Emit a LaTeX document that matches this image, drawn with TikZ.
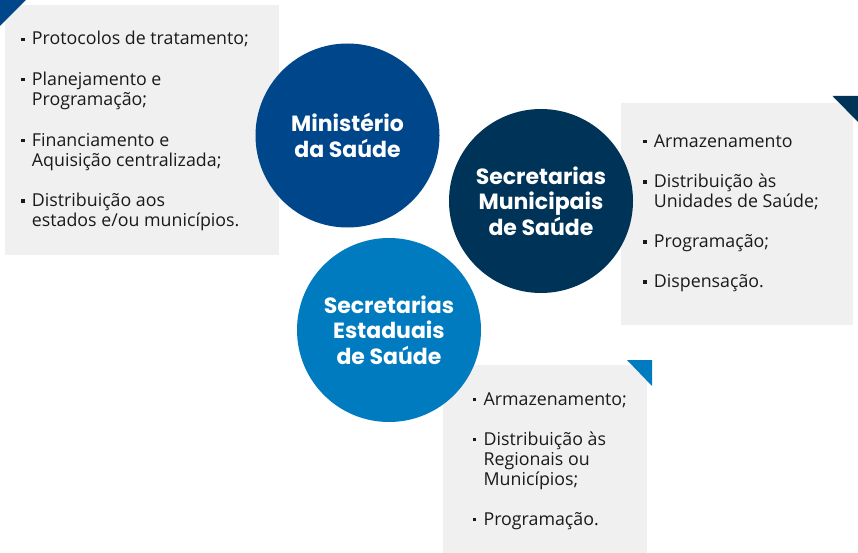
\documentclass[tikz,border=0pt]{standalone}
\usepackage{fontspec}
\setmainfont{Open Sans}
\newfontfamily\circfont{Poppins}
\definecolor{cA}{HTML}{00468B}
\definecolor{cB}{HTML}{003358}
\definecolor{cC}{HTML}{007BC0}
\definecolor{boxg}{HTML}{F0F0F0}
\definecolor{txt}{HTML}{1A1A1A}
\newcommand{\bul}{\makebox[10.7pt][l]{\rule[4pt]{3.3pt}{3.3pt}}}
\newcommand{\ind}{\hspace*{10.7pt}}
\begin{document}
\begin{tikzpicture}[x=1pt,y=-1pt,
  panel/.style={fill=boxg, draw=none},
  circ/.style={circle, minimum size=184pt, inner sep=0pt, text=white,
    font=\circfont\bfseries\fontsize{22}{25.5}\selectfont, align=center},
  lst/.style={anchor=base west, inner sep=0pt, align=left, text=txt,
    font=\fontsize{17.8}{20}\selectfont}]
\useasboundingbox (0,0) rectangle (858,553);
% panels
\path[panel] (5,5) rectangle (279,255);
\path[panel] (621,103) rectangle (853,325);
\path[panel] (443,365) rectangle (647,553);
% corner triangles
\fill[cA] (0,0) -- (26,0) -- (0,26) -- cycle;
\fill[cB] (832.5,96) -- (858,96) -- (858,122) -- cycle;
\fill[cC] (627,360) -- (652,360) -- (652,386) -- cycle;
% circles
\node[circ, fill=cA] (ms) at (347.5,135.5) {Ministério\\da Saúde};
\node[circ, fill=cB] (sm) at (541,201) {Secretarias\\Municipais\\de Saúde};
\node[circ, fill=cC] (se) at (389,330) {Secretarias\\Estaduais\\de Saúde};
% lists (anchored at the baseline of their last line)
\node[lst] (l1) at (21,226.5) {\bul Protocolos de tratamento;\\[20.5pt]
\bul Planejamento e\\ \ind Programação;\\[20.5pt]
\bul Financiamento e\\ \ind Aquisição centralizada;\\[20.5pt]
\bul Distribuição aos\\ \ind estados e/ou municípios.};
\node[lst] (l2) at (643,287.5) {\bul Armazenamento\\[20.5pt]
\bul Distribuição às\\ \ind Unidades de Saúde;\\[20pt]
\bul Programação;\\[20pt]
\bul Dispensação.};
\node[lst] (l3) at (472.7,525) {\bul Armazenamento;\\[20pt]
\bul Distribuição às\\ \ind Regionais ou\\ \ind Municípios;\\[20pt]
\bul Programação.};
\end{tikzpicture}
\end{document}
